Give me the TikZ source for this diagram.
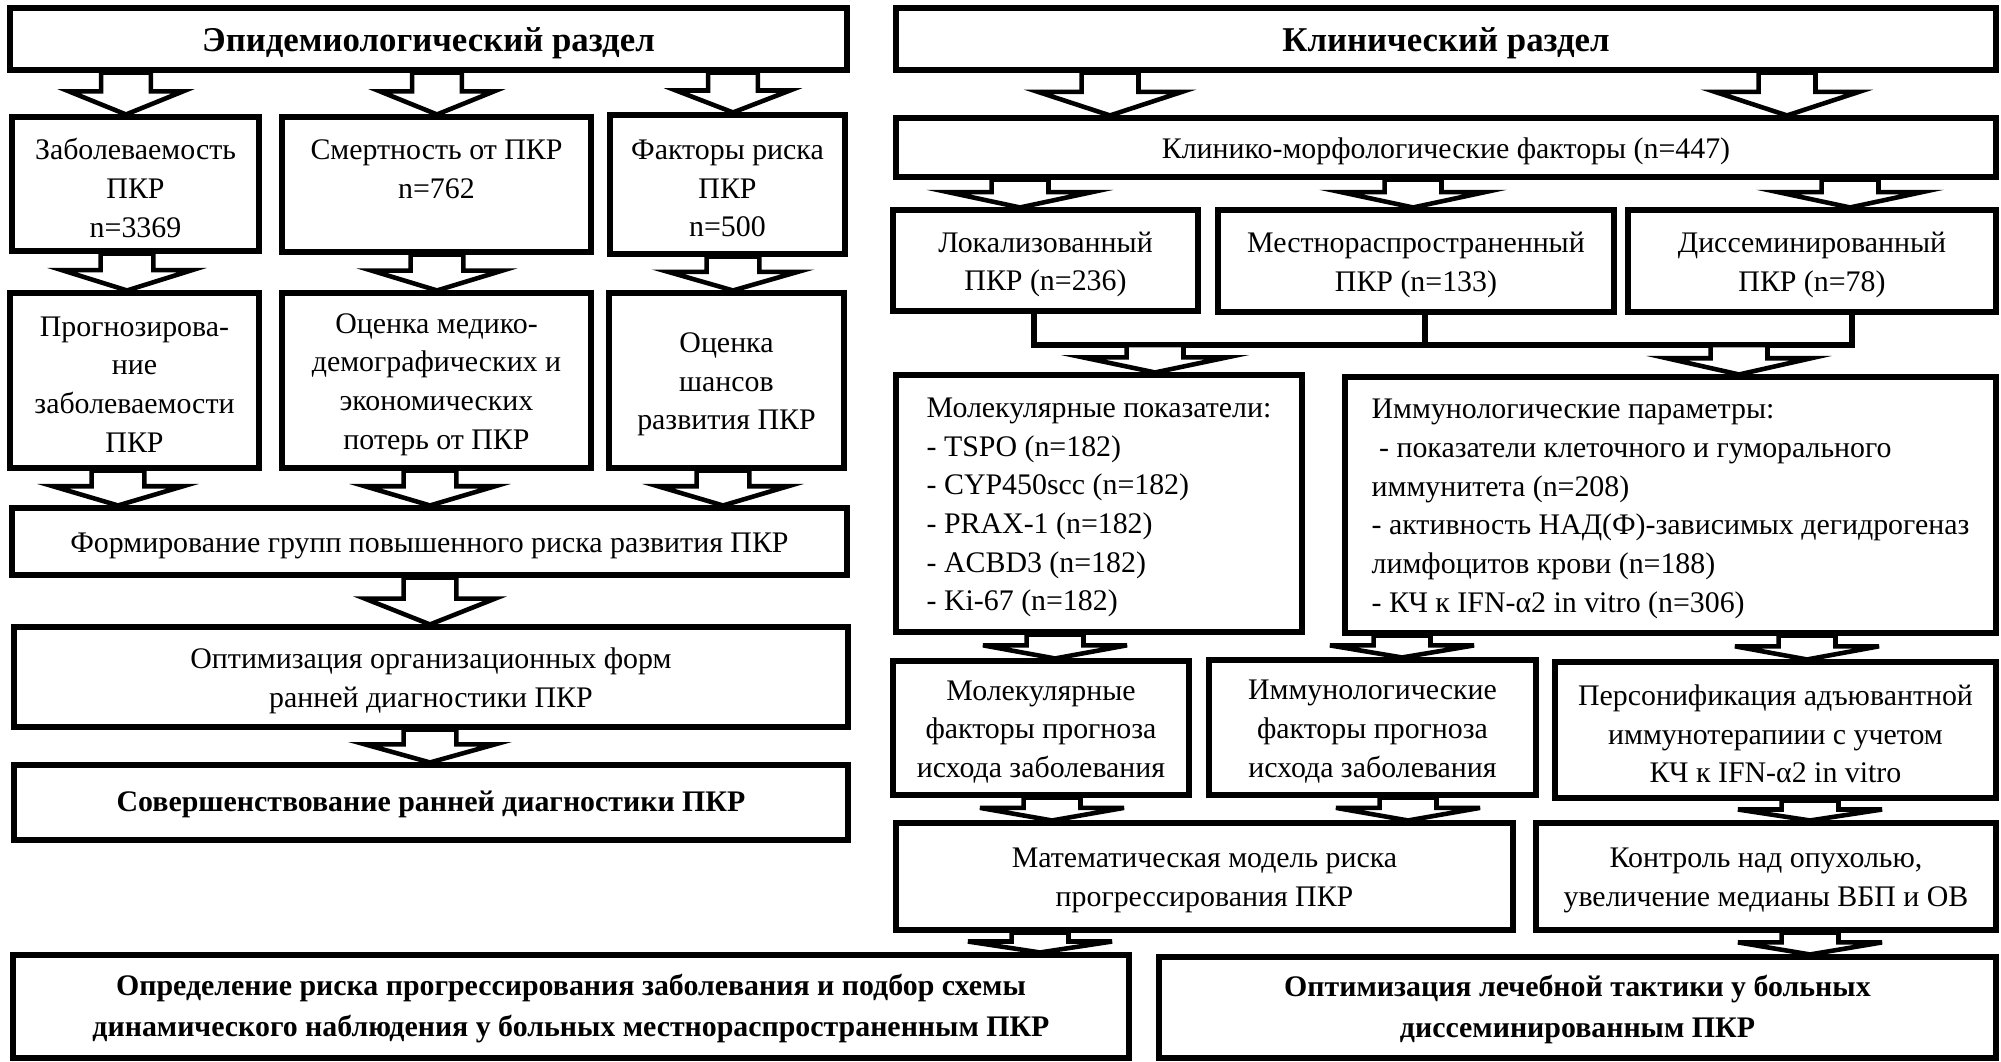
\documentclass[tikz,border=0pt]{standalone}
\usepackage{fontspec}
\setmainfont{Liberation Serif}
\usetikzlibrary{calc}
\def\arrhs{7.97pt}
\def\arrhh{19.9pt}
\newcommand\bx[7][]{\node[box,minimum width={(#4-#2)*0.1mm},minimum height={(#5-#3)*0.1mm}] (#6) at ({(#2+#4)/2},{(#3+#5)/2}) {};
  \node[txt,#1] (#6-t) at ([yshift=-0.4mm]#6.center) {#7};}
\newcommand\barrow[3]{\draw[arr] let \p1=(#2.south), \p2=(#3.north), \p3=(#1,0), \n1={\y2+0.55*(\y1-\y2)} in
  ({\x3-\arrhs},\y1) -- ({\x3+\arrhs},\y1) -- ({\x3+\arrhs},\n1) -- ({\x3+\arrhh},\n1) -- (\x3,\y2) -- ({\x3-\arrhh},\n1) -- ({\x3-\arrhs},\n1) -- cycle;}
\begin{document}
\begin{tikzpicture}[x=0.1mm,y=-0.1mm,
  box/.style={draw,line width=1.45pt,fill=white,inner sep=0pt},
  txt/.style={inner sep=0pt,align=center,font=\fontsize{8.5}{11}\selectfont},
  hdr/.style={font=\fontsize{9.9}{12}\selectfont\bfseries},
  bld/.style={font=\fontsize{8.5}{11.7}\selectfont\bfseries,yshift=0.2mm},
  lst/.style={align=left,font=\fontsize{8.5}{11}\selectfont},
  arr/.style={draw,fill=white,line width=1.3pt,line join=miter},
  brk/.style={line width=1.45pt}]
\useasboundingbox (0,0) rectangle (2001,1061);
% left column
\bx[hdr]{10}{8}{847}{70}{epi}{Эпидемиологический раздел}
\bx{12}{117}{259}{251}{zab}{Заболеваемость\\ПКР\\n=3369}
\bx{282}{117}{591}{252}{smr}{Смертность от ПКР\\n=762\\\mbox{}}
\bx{610}{115}{845}{254}{fak}{Факторы риска\\ПКР\\n=500}
\bx{10}{293}{259}{468}{prog}{Прогнозирова-\\ние\\заболеваемости\\ПКР}
\bx{282}{293}{591}{468}{ocm}{Оценка медико-\\демографических и\\экономических\\потерь от ПКР}
\bx{609}{293}{844}{468}{ocs}{Оценка\\шансов\\развития ПКР}
\bx{12}{508}{847}{575}{form}{Формирование групп повышенного риска развития ПКР}
\bx{14}{627}{848}{727}{opt}{Оптимизация организационных форм\\ранней диагностики ПКР}
\bx[bld]{14}{765}{848}{840}{sov}{Совершенствование ранней диагностики ПКР}
\bx[bld]{13}{955}{1129}{1058}{opr}{Определение риска прогрессирования заболевания и подбор схемы\\динамического наблюдения у больных местнораспространенным ПКР}
% right column
\bx[hdr]{896}{8}{1996}{70}{kli}{Клинический раздел}
\bx{896}{118}{1996}{177}{km}{Клинико-морфологические факторы (n=447)}
\bx{893}{210}{1198}{311}{lok}{Локализованный\\ПКР (n=236)}
\bx{1218}{210}{1614}{312}{mes}{Местнораспространенный\\ПКР (n=133)}
\bx{1628}{210}{1996}{312}{dis}{Диссеминированный\\ПКР (n=78)}
\bx[lst]{896}{375}{1302}{632}{mol}{Молекулярные показатели:\\- TSPO (n=182)\\- CYP450scc (n=182)\\- PRAX-1 (n=182)\\- ACBD3 (n=182)\\- Ki-67 (n=182)}
\bx[lst]{1345}{377}{1996}{633}{imm}{Иммунологические параметры:\\\ - показатели клеточного и гуморального\\иммунитета (n=208)\\- активность НАД(Ф)-зависимых дегидрогеназ\\лимфоцитов крови (n=188)\\- КЧ к IFN-α2 in vitro (n=306)}
\bx{893}{661}{1189}{795}{mf}{Молекулярные\\факторы прогноза\\исхода заболевания}
\bx{1209}{660}{1536}{795}{ifac}{Иммунологические\\факторы прогноза\\исхода заболевания}
\bx{1555}{662}{1996}{798}{pers}{Персонификация адъювантной\\иммунотерапиии с учетом\\КЧ к IFN-α2 in vitro}
\bx{896}{823}{1513}{930}{mat}{Математическая модель риска\\прогрессирования ПКР}
\bx{1536}{823}{1996}{930}{kon}{Контроль над опухолью,\\увеличение медианы ВБП и ОВ}
\bx[bld]{1159}{957}{1996}{1058}{optl}{Оптимизация лечебной тактики у больных\\диссеминированным ПКР}
% bracket
\node[inner sep=0pt,minimum size=0pt,outer sep=0pt] (jn) at (1443,345) {};
\coordinate (b1) at (1034,345);
\coordinate (b2) at (1425,345);
\coordinate (b3) at (1852,345);
\draw[brk,line cap=rect] (b1 |- lok.south) -- (b1) -- (b3) -- (b3 |- dis.south);
\draw[brk] (b2 |- mes.south) -- (b2);
% arrows
\def\arrhs{7.1pt}\def\arrhh{16.2pt}
\barrow{126}{epi}{zab}
\barrow{437}{epi}{smr}
\barrow{733}{epi}{fak}
\def\arrhs{7.5pt}\def\arrhh{18.5pt}
\barrow{127}{zab}{prog}
\barrow{437}{smr}{ocm}
\barrow{733}{fak}{ocs}
\barrow{118}{prog}{form}
\barrow{430}{ocm}{form}
\barrow{723}{ocs}{form}
\barrow{430}{form}{opt}
\barrow{430}{opt}{sov}
\def\arrhs{8.1pt}\def\arrhh{20.5pt}
\barrow{1110}{kli}{km}
\barrow{1787}{kli}{km}
\barrow{1020}{km}{lok}
\barrow{1413}{km}{mes}
\barrow{1850}{km}{dis}
\barrow{1155}{jn}{mol}
\barrow{1739}{jn}{imm}
\barrow{1055}{mol}{mf}
\barrow{1402}{imm}{ifac}
\barrow{1807}{imm}{pers}
\barrow{1052}{mf}{mat}
\barrow{1408}{ifac}{mat}
\barrow{1810}{pers}{kon}
\barrow{1040}{mat}{opr}
\barrow{1810}{kon}{optl}
\end{tikzpicture}
\end{document}
